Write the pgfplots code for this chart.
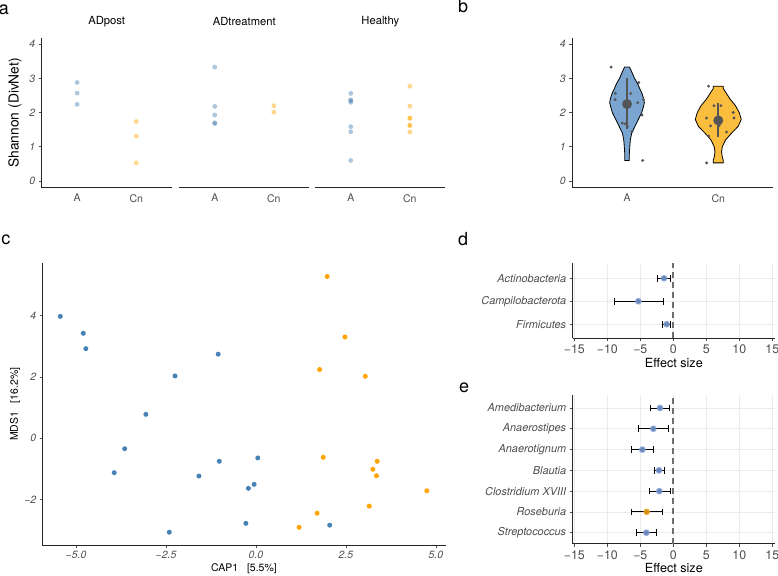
\documentclass[border=0pt]{standalone}
\usepackage{fontspec}
\setmainfont{TeX Gyre Heros}
\usepackage{pgfplots}
\pgfplotsset{compat=1.18}
\definecolor{sblue}{HTML}{4682B4}
\definecolor{sorange}{HTML}{FFA500}
\definecolor{vblue}{HTML}{79A5D0}
\definecolor{vorange}{HTML}{FBBD3E}
\definecolor{dblue}{HTML}{7E9FD8}
\definecolor{dorange}{HTML}{F7A823}
\definecolor{tickgray}{HTML}{4D4D4D}
\definecolor{gridgray}{HTML}{EBEBEB}
\definecolor{meangray}{HTML}{555555}
\definecolor{dashgray}{HTML}{6E6E6E}
\newcommand\fs[1]{\fontsize{#1}{#1}\selectfont}
\pgfplotsset{
  base/.style={scale only axis, anchor=south west, clip=false,
    axis line style={-, line width=1pt, black!85},
    tick style={black!70, line width=0.6pt}, major tick length=3pt, tick align=outside,
    /pgf/number format/assume math mode=true,
    xticklabel style={font=\fs{10.5}, text=tickgray},
    yticklabel style={font=\fs{10.5}\itshape, text=tickgray},
    label style={font=\fs{10.5}},
  },
  facet/.style={base, width=130pt, height=149.7pt, xmin=0.4, xmax=2.6, ymin=-0.196, ymax=4.18,
    xtick={1,2}, xticklabels={A,Cn}, x tick style={draw=none},
    title style={at={(axis description cs:0.5,1.0715)}, anchor=center, font=\fs{11.2}}},
  dot/.style={only marks, mark=*, color=#1, mark options={draw opacity=0}},
  ptA/.style={only marks, mark=*, mark size=2.4pt, color=sblue, mark options={draw opacity=0, fill opacity=0.45}},
  ptC/.style={only marks, mark=*, mark size=2.4pt, color=sorange, mark options={draw opacity=0, fill opacity=0.45}},
  eff/.style={base, width=202.3pt, xmin=-15.24, xmax=15.4,
    axis x line*=bottom, axis y line*=left,
    xtick={-15,-10,-5,0,5,10,15}, xticklabels={−15,−10,−5,0,5,10,15},
    xticklabel style={font=\fs{12.4}, text=tickgray},
    yticklabel style={font=\fs{10.9}\itshape, text=tickgray},
    grid=major, major grid style={gridgray, line width=0.6pt},
    xlabel={Effect size}, label style={font=\fs{12.6}}},
  ebar/.style={only marks, mark=none,
    error bars/.cd, x dir=both, x explicit, error mark=|,
    error bar style={line width=1pt, black},
    error mark options={line width=1pt, mark size=3.3pt, black}},
  effdot/.style={only marks, mark=*, mark size=3.4pt, color=#1, mark options={draw opacity=0, fill opacity=0.85}},
  zero/.style={dashgray, line width=1.8pt, dash pattern=on 6pt off 4pt},
}
\begin{document}
\begin{tikzpicture}
\useasboundingbox (0,0) rectangle (778pt,575pt);
% panel letters
\node[inner sep=0, font=\fs{18}] at (4pt,565pt) {a};
\node[inner sep=0, font=\fs{18}] at (463pt,568.5pt) {b};
\node[inner sep=0, font=\fs{18}] at (6pt,335pt) {c};
\node[inner sep=0, font=\fs{18}] at (463pt,336pt) {d};
\node[inner sep=0, font=\fs{18}] at (464pt,187pt) {e};

% ---------- panel a ----------
\begin{axis}[facet, at={(41.7pt,387.3pt)}, axis x line*=bottom, axis y line*=left,
  ytick={0,1,2,3,4}, title={ADpost},
  ylabel={Shannon (DivNet)}, ylabel style={at={(axis description cs:-0.2054,0.5)}, anchor=center, font=\fs{13.8}}]
\addplot[ptA] coordinates {(1,2.88) (1,2.57) (1,2.24)};
\addplot[ptC] coordinates {(2,1.74) (2,1.31) (2,0.53)};
\end{axis}
\begin{axis}[facet, at={(179.3pt,387.3pt)}, axis x line*=bottom, axis y line=none, title={ADtreatment}]
\addplot[ptA] coordinates {(1,3.33) (1,2.18) (1,1.93) (1,1.70) (1,1.68)};
\addplot[ptC] coordinates {(2,2.20) (2,2.01)};
\end{axis}
\begin{axis}[facet, at={(315.3pt,387.3pt)}, axis x line*=bottom, axis y line=none, title={Healthy}]
\addplot[ptA] coordinates {(1,2.56) (1,2.37) (1,2.35) (1,2.30) (1,1.59) (1,1.44) (1,0.60)};
\addplot[ptC] coordinates {(2,2.77) (2,2.19) (2,1.84) (2,1.83) (2,1.64) (2,1.61) (2,1.43)};
\end{axis}

% ---------- panel b ----------
\begin{axis}[base, at={(572.3pt,387.3pt)}, width=200.7pt, height=149.7pt,
  xmin=0.4, xmax=2.6, ymin=-0.196, ymax=4.18,
  axis x line*=bottom, axis y line*=left, x tick style={draw=none},
  xtick={1,2}, xticklabels={A,Cn}, ytick={0,1,2,3,4}]
\addplot[fill=vblue, draw=black, line width=0.8pt] coordinates {
 (1.027,3.33) (1.05,3.2) (1.082,3.0) (1.115,2.85) (1.139,2.7) (1.165,2.55) (1.183,2.4) (1.19,2.3)
 (1.183,2.2) (1.161,2.0) (1.124,1.8) (1.0875,1.6) (1.051,1.4) (1.036,1.2) (1.03,1.0) (1.025,0.8) (1.025,0.6)
 (0.975,0.6) (0.975,0.8) (0.97,1.0) (0.964,1.2) (0.949,1.4) (0.9125,1.6) (0.876,1.8) (0.839,2.0)
 (0.817,2.2) (0.81,2.3) (0.817,2.4) (0.835,2.55) (0.861,2.7) (0.885,2.85) (0.918,3.0) (0.95,3.2) (0.973,3.33) (1.027,3.33)};
\addplot[fill=vorange, draw=black, line width=0.8pt] coordinates {
 (2.055,2.77) (2.055,2.7) (2.08,2.6) (2.128,2.4) (2.189,2.2) (2.23,2.0) (2.252,1.8) (2.219,1.6) (2.146,1.4)
 (2.08,1.2) (2.044,1.0) (2.036,0.85) (2.044,0.7) (2.055,0.6) (2.055,0.53)
 (1.945,0.53) (1.945,0.6) (1.956,0.7) (1.964,0.85) (1.956,1.0) (1.92,1.2) (1.854,1.4) (1.781,1.6) (1.748,1.8)
 (1.77,2.0) (1.811,2.2) (1.872,2.4) (1.92,2.6) (1.945,2.7) (1.945,2.77) (2.055,2.77)};
\addplot[dot=meangray, mark size=1.6pt] coordinates {
 (0.825,3.33) (0.872,2.56) (0.869,2.38) (1.128,2.88) (1.04,2.56) (1.117,2.29) (1.179,2.38) (1.164,1.93)
 (0.949,1.69) (0.978,1.67) (1.004,1.59) (1.055,1.44) (1.171,0.60) (0.98,2.24) (1.02,2.18)
 (1.894,2.77) (1.953,2.20) (2.029,2.20) (1.872,1.84) (2.164,2.0) (2.172,1.84) (1.916,1.61) (2.091,1.43)
 (1.894,1.31) (1.872,0.53) (2.0,1.83) (2.01,1.62)};
\addplot[meangray, line width=2.2pt] coordinates {(1,1.51) (1,3.0)};
\addplot[meangray, line width=2.2pt] coordinates {(2,1.28) (2,2.27)};
\addplot[dot=meangray, mark size=5pt] coordinates {(1,2.25) (2,1.77)};
\end{axis}

% ---------- panel c ----------
\begin{axis}[base, at={(42.3pt,30pt)}, width=403.4pt, height=281.7pt,
  xmin=-5.94, xmax=5.275, ymin=-3.476, ymax=5.70,
  axis x line*=bottom, axis y line*=left, major tick length=2.5pt,
  xtick={-5,-2.5,0,2.5,5}, xticklabels={−5.0,−2.5,0.0,2.5,5.0},
  ytick={-2,0,2,4}, yticklabels={−2,0,2,4},
  xticklabel style={font=\fs{10.5}\itshape, text=tickgray},
  xlabel={CAP1\ \ \ [5.5\%]}, ylabel={MDS1\ \ \ [16.2\%]},
  xlabel style={at={(axis description cs:0.5,-0.0852)}, anchor=center},
  ylabel style={at={(axis description cs:-0.0677,0.5)}, anchor=center}]
\addplot[dot=sblue, mark size=2.5pt] coordinates {
 (-5.44,3.97) (-4.80,3.42) (-4.73,2.92) (-1.05,2.74) (-2.25,2.03) (-3.06,0.78) (-3.65,-0.34) (-3.94,-1.12)
 (-1.585,-1.23) (-1.02,-0.75) (0.05,-0.64) (-0.21,-1.63) (-0.05,-1.50) (-0.28,-2.77) (-2.41,-3.06) (2.05,-2.83)};
\addplot[dot=sorange, mark size=2.5pt] coordinates {
 (1.98,5.27) (2.475,3.30) (1.77,2.24) (3.04,2.02) (1.87,-0.62) (3.37,-0.75) (3.25,-1.01) (3.35,-1.22)
 (3.15,-2.21) (1.70,-2.44) (1.20,-2.90) (4.75,-1.71)};
\end{axis}

% ---------- panel d ----------
\begin{axis}[eff, at={(572.7pt,236.7pt)}, height=75pt, ymin=0.39, ymax=3.65,
  ytick={1,2,3}, yticklabels={Firmicutes,Campilobacterota,Actinobacteria},
  xlabel style={at={(axis description cs:0.5,-0.333)}, anchor=center}]
\addplot[zero] coordinates {(0,0.39) (0,3.65)};
\addplot[ebar] table[x=x, y=y, x error minus=em, x error plus=ep] {
y x em ep
3 -1.41 1.01 0.91
2 -5.3 3.68 3.8
1 -1.0 0.6 0.5
};
\addplot[effdot=dblue] table[x=x, y=y] {
y x
3 -1.41
2 -5.3
1 -1.0
};
\end{axis}

% ---------- panel e ----------
\begin{axis}[eff, at={(572.7pt,31pt)}, height=149pt, ymin=0.456, ymax=7.626,
  ytick={1,2,3,4,5,6,7},
  yticklabels={Streptococcus,Roseburia,Clostridium XVIII,Blautia,Anaerotignum,Anaerostipes,Amedibacterium},
  xlabel style={at={(axis description cs:0.5,-0.161)}, anchor=center}]
\addplot[zero] coordinates {(0,0.456) (0,7.626)};
\addplot[ebar] table[x=x, y=y, x error minus=em, x error plus=ep] {
y x em ep
7 -2.02 1.46 1.42
6 -3.03 2.27 2.33
5 -4.7 1.6 1.67
4 -2.17 0.75 0.81
3 -2.12 1.56 1.72
2 -4.03 2.33 2.32
1 -4.09 1.56 1.57
};
\addplot[effdot=dblue] table[x=x, y=y] {
y x
7 -2.02
6 -3.03
5 -4.7
4 -2.17
3 -2.12
1 -4.09
};
\addplot[effdot=dorange] table[x=x, y=y] {
y x
2 -4.03
};
\end{axis}
\end{tikzpicture}
\end{document}
